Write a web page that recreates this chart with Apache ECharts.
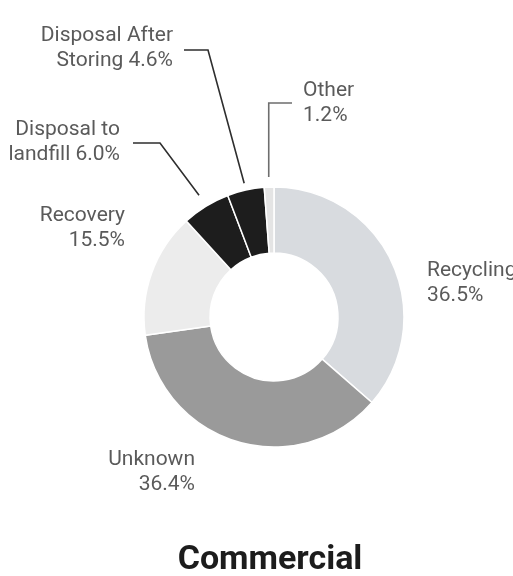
<!DOCTYPE html>
<html>
<head>
<meta charset="utf-8">
<script src="https://cdn.jsdelivr.net/npm/echarts@6/dist/echarts.min.js"></script>
<style>
  html, body { margin: 0; padding: 0; background: #fff; }
  #chart { width: 513px; height: 576px; }
</style>
</head>
<body>
<div id="chart"></div>
<script>
const categories = ["Recycling", "Unknown", "Recovery", "Disposal to landfill", "Disposal After Storing", "Other"];
const values = [36.5, 36.4, 15.5, 6.0, 4.6, 1.2];
// how each label breaks over two lines
const labelHeads = ["Recycling", "Unknown", "Recovery", "Disposal to", "Disposal After", "Other"];
const labelTails = ["", "", "", "landfill ", "Storing ", ""];

const colors = ["#d8dbdf", "#9a9a9a", "#ececec", "#1d1d1d", "#1d1d1d", "#e4e4e4"];

const cx = 274, cy = 317, rIn = 64, rOut = 130;
const total = values.reduce((a, b) => a + b, 0);

function pointOn(i, r) {
  let before = 0;
  for (let k = 0; k < i; k++) before += values[k];
  const a = (before + values[i] / 2) / total * Math.PI * 2;
  return [cx + r * Math.sin(a), cy - r * Math.cos(a)];
}

// label placement per slice
const place = [
  { x: 427, y: 283, align: "left" },
  { x: 195, y: 472, align: "right" },
  { x: 125, y: 228, align: "right" },
  { x: 120, y: 142, align: "right", r: 143, bend: [160, 143], end: 133 },
  { x: 173, y: 48, align: "right", r: 137, bend: [208, 50], end: 184 },
  { x: 303, y: 103, align: "left", r: 140, bend: null, by: 103, end: 292 }
];

const chart = echarts.init(document.getElementById("chart"));

const data = categories.map((name, i) => ({
  name: name,
  value: values[i],
  itemStyle: { color: colors[i] },
  label: {
    formatter: labelTails[i]
      ? labelHeads[i] + "\n" + labelTails[i] + values[i].toFixed(1) + "%"
      : labelHeads[i] + "\n" + values[i].toFixed(1) + "%"
  },
  labelLine: {
    show: i >= 3,
    lineStyle: { color: i === 5 ? "#6e6e6e" : "#2e2e2e", width: 1.6 }
  }
}));

chart.setOption({
  animation: false,
  graphic: [
    {
      type: "text",
      style: {
        text: "Commercial",
        x: 270,
        y: 560,
        textAlign: "center",
        textVerticalAlign: "middle",
        font: "bold 34px Roboto",
        fill: "#1c1c1c"
      }
    }
  ],
  series: [
    {
      type: "pie",
      center: [cx, cy],
      radius: [rIn, rOut],
      startAngle: 90,
      clockwise: true,
      avoidLabelOverlap: false,
      itemStyle: { borderColor: "#ffffff", borderWidth: 1.5 },
      label: {
        show: true,
        position: "outside",
        fontFamily: "Roboto",
        fontSize: 21,
        lineHeight: 25,
        color: "#5a5a5a"
      },
      labelLine: { show: false },
      labelLayout: function (params) {
        const i = params.dataIndex;
        const p = place[i];
        const out = { x: p.x, y: p.y, align: p.align, verticalAlign: "middle" };
        if (p.r) {
          const s = pointOn(i, p.r);
          if (p.bend) {
            out.labelLinePoints = [s, p.bend, [p.end, p.bend[1]]];
          } else {
            out.labelLinePoints = [s, [s[0], p.by], [p.end, p.by]];
          }
        }
        return out;
      },
      data: data
    }
  ]
});
</script>
</body>
</html>
